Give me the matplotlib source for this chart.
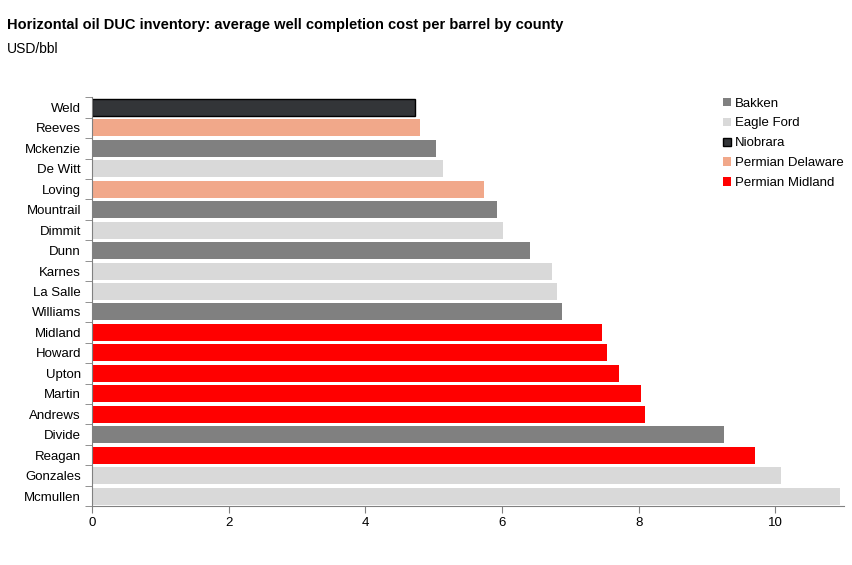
import matplotlib
matplotlib.use("Agg")
import matplotlib.pyplot as plt
import numpy as np
from matplotlib.patches import Patch

plt.rcParams["font.family"] = ["Liberation Sans", "DejaVu Sans"]

counties = ["Weld", "Reeves", "Mckenzie", "De Witt", "Loving", "Mountrail", "Dimmit",
            "Dunn", "Karnes", "La Salle", "Williams", "Midland", "Howard", "Upton",
            "Martin", "Andrews", "Divide", "Reagan", "Gonzales", "Mcmullen"]
costs = [4.73, 4.80, 5.04, 5.14, 5.74, 5.93, 6.02, 6.41, 6.73, 6.80, 6.88, 7.46,
         7.53, 7.71, 8.03, 8.10, 9.25, 9.71, 10.09, 10.94]
basins = ["Niobrara", "Permian Delaware", "Bakken", "Eagle Ford", "Permian Delaware",
          "Bakken", "Eagle Ford", "Bakken", "Eagle Ford", "Eagle Ford", "Bakken",
          "Permian Midland", "Permian Midland", "Permian Midland", "Permian Midland",
          "Permian Midland", "Bakken", "Permian Midland", "Eagle Ford", "Eagle Ford"]

basin_names = ["Bakken", "Eagle Ford", "Niobrara", "Permian Delaware", "Permian Midland"]
basin_colors = {"Bakken": "#808080", "Eagle Ford": "#d9d9d9", "Niobrara": "#333538",
                "Permian Delaware": "#f1a88a", "Permian Midland": "#ff0000"}

fig = plt.figure(figsize=(8.53, 5.65), dpi=100)
ax = fig.add_axes([0.108, 0.104, 0.881, 0.724])

y = np.arange(len(counties))
for yi, c, b in zip(y, costs, basins):
    edge = "black" if b == "Niobrara" else "none"
    ax.barh(yi, c, height=0.83, color=basin_colors[b], edgecolor=edge, linewidth=1)

ax.set_ylim(len(counties) - 0.5, -0.5)
ax.set_xlim(0, 11)
ax.set_yticks(y)
ax.set_yticklabels(counties, fontsize=9.5)
ax.set_yticks(np.arange(-0.5, len(counties) + 0.5, 1), minor=True)
ax.tick_params(axis="y", which="major", length=0, pad=8)
ax.tick_params(axis="y", which="minor", length=5, color="#808080")
ax.set_xticks([0, 2, 4, 6, 8, 10])
ax.tick_params(axis="x", labelsize=9.5, length=5, color="#808080", pad=3)

for s in ["top", "right"]:
    ax.spines[s].set_visible(False)
for s in ["left", "bottom"]:
    ax.spines[s].set_color("#808080")

handles = [Patch(facecolor=basin_colors[n], edgecolor="black" if n == "Niobrara" else "none",
                 label=n) for n in basin_names]
ax.legend(handles=handles, loc="upper left", bbox_to_anchor=(0.833, 1.012), frameon=False,
          fontsize=9.5, handlelength=0.6, handleheight=0.6, handletextpad=0.3,
          labelspacing=0.6, borderaxespad=0)

fig.text(0.008, 0.955, "Horizontal oil DUC inventory: average well completion cost per barrel by county",
         fontsize=10.5, fontweight="bold", va="center")
fig.text(0.008, 0.914, "USD/bbl", fontsize=10, va="center")

fig.savefig("out.png", dpi=100)
